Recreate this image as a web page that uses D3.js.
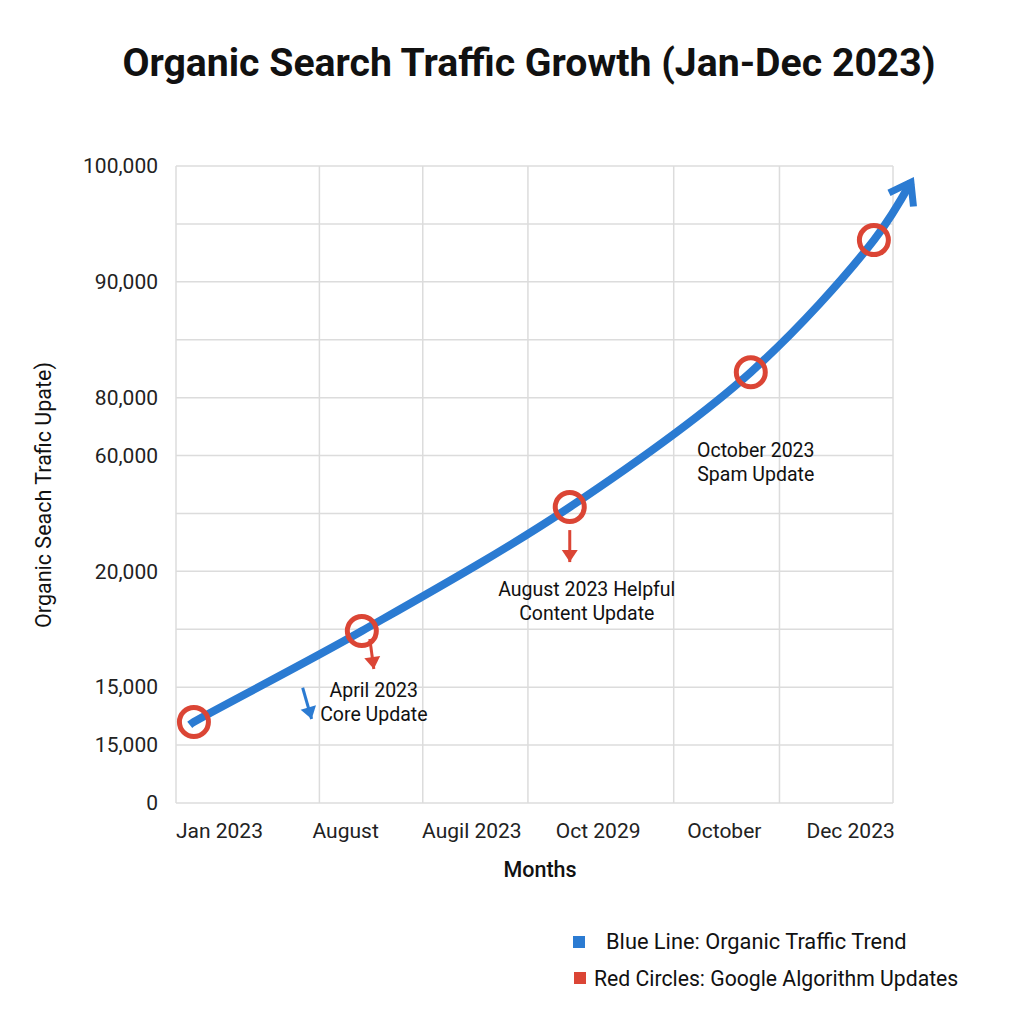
<!DOCTYPE html>
<html>
<head>
<meta charset="utf-8">
<script src="https://cdn.jsdelivr.net/npm/d3@7"></script>
<style>
  body { margin: 0; background: #fff; }
  svg { font-family: Roboto, "Noto Sans", sans-serif; }
</style>
</head>
<body>
<svg id="chart" width="1024" height="1024"></svg>
<script>
// y axis is drawn on evenly spaced gridlines (0 = bottom); labels as they appear
const yTickLabels = ["0", "15,000", "15,000", "", "20,000", "", "60,000", "80,000", "", "90,000", "", "100,000"];
const monthLabels = ["Jan 2023", "August", "Augil 2023", "Oct 2029", "October", "Dec 2023"];
// vertical gridlines, in month units
const xGrid = [0, 2.4, 4.13, 5.89, 8.33, 10.1, 12];

// traffic trend (month, level on gridline scale)
const trendMonth = [0.23, 0.3, 3.11, 6.59, 9.62, 11.68, 12.3];
const trendLevel = [1.35, 1.4, 2.97, 5.11, 7.44, 9.72, 10.72];

// algorithm updates (red circles)
const updateMonth = [0.3, 3.11, 6.59, 9.62, 11.68];
const updateLevel = [1.4, 2.97, 5.11, 7.44, 9.72];
const updateText = [
  null,
  ["April 2023", "Core Update"],
  ["August 2023 Helpful", "Content Update"],
  ["October 2023", "Spam Update"],
  null
];

const svg = d3.select("#chart");
const margin = { left: 176, right: 131, top: 166, bottom: 221 };
const width = 1024 - margin.left - margin.right;
const height = 1024 - margin.top - margin.bottom;

const x = d3.scaleLinear().domain([0, 12]).range([0, width]);
const y = d3.scaleLinear().domain([0, 11]).range([height, 0]);
const xLab = d3.scalePoint().domain(monthLabels).range([0, width]).padding(0.34);

const blue = "#2b7bd2";
const red = "#db4535";

svg.append("text")
  .attr("x", 529).attr("y", 76)
  .attr("text-anchor", "middle")
  .attr("font-size", 39.2).attr("font-weight", 700).attr("fill", "#111")
  .text("Organic Search Traffic Growth (Jan-Dec 2023)");

const g = svg.append("g").attr("transform", `translate(${margin.left},${margin.top})`);

// grid
g.append("g").selectAll("line").data(d3.range(12)).join("line")
  .attr("x1", 0).attr("x2", width)
  .attr("y1", d => y(d)).attr("y2", d => y(d))
  .attr("stroke", "#dcdcdc").attr("stroke-width", 1.5);
g.append("g").selectAll("line").data(xGrid).join("line")
  .attr("x1", d => x(d)).attr("x2", d => x(d))
  .attr("y1", 0).attr("y2", height)
  .attr("stroke", "#dcdcdc").attr("stroke-width", 1.5);

// y axis labels
const yAxis = g.append("g")
  .call(d3.axisLeft(y).tickValues(d3.range(12)).tickFormat(i => yTickLabels[i]).tickSize(0).tickPadding(18));
yAxis.select(".domain").remove();
yAxis.selectAll("text").attr("font-size", 21).attr("fill", "#222").attr("font-family", "Roboto, sans-serif");

// x axis labels
const xAxis = g.append("g").attr("transform", `translate(0,${height})`)
  .call(d3.axisBottom(xLab).tickSize(0).tickPadding(20));
xAxis.select(".domain").remove();
xAxis.selectAll("text").attr("font-size", 21).attr("fill", "#222").attr("font-family", "Roboto, sans-serif");

svg.append("text")
  .attr("x", 540).attr("y", 877)
  .attr("text-anchor", "middle")
  .attr("font-size", 21.5).attr("font-weight", 500).attr("fill", "#111")
  .text("Months");

svg.append("text")
  .attr("transform", "translate(51,495) rotate(-90)")
  .attr("text-anchor", "middle")
  .attr("font-size", 21.5).attr("fill", "#111")
  .text("Organic Seach Trafic Upate)");

// markers
const defs = svg.append("defs");
defs.append("marker")
  .attr("id", "chev").attr("markerUnits", "userSpaceOnUse")
  .attr("viewBox", "-30 -20 40 40").attr("markerWidth", 40).attr("markerHeight", 40)
  .attr("refX", 0).attr("refY", 0).attr("orient", "auto")
  .append("path").attr("d", "M-20,-14 L0,0 L-20,14")
  .attr("fill", "none").attr("stroke", blue).attr("stroke-width", 7)
  .attr("stroke-linecap", "butt").attr("stroke-linejoin", "miter");
[["redHead", red], ["blueHead", blue]].forEach(([id, c]) => {
  defs.append("marker")
    .attr("id", id).attr("markerUnits", "userSpaceOnUse")
    .attr("viewBox", "-14 -10 16 20").attr("markerWidth", 16).attr("markerHeight", 20)
    .attr("refX", 0).attr("refY", 0).attr("orient", "auto")
    .append("path").attr("d", "M-12,-8 L0,0 L-12,8 Z").attr("fill", c);
});

// trend line
const trend = trendMonth.map((m, i) => [m, trendLevel[i]]);
g.append("path")
  .datum(trend)
  .attr("d", d3.line().x(d => x(d[0])).y(d => y(d[1])).curve(d3.curveCatmullRom.alpha(0.5)))
  .attr("fill", "none").attr("stroke", blue).attr("stroke-width", 8)
  .attr("marker-end", "url(#chev)");

// red circles
g.selectAll(".update").data(updateMonth).join("circle")
  .attr("class", "update")
  .attr("cx", d => x(d)).attr("cy", (d, i) => y(updateLevel[i]))
  .attr("r", 14.5)
  .attr("fill", "none").attr("stroke", red).attr("stroke-width", 5);

// small arrows below circles 2 and 3
const arrow = (x1, y1, x2, y2, c, id) => g.append("line")
  .attr("x1", x1).attr("y1", y1).attr("x2", x2).attr("y2", y2)
  .attr("stroke", c).attr("stroke-width", 3).attr("marker-end", `url(#${id})`);
arrow(x(updateMonth[1]) + 8, y(updateLevel[1]) + 8, x(updateMonth[1]) + 12, y(updateLevel[1]) + 38, red, "redHead");
arrow(x(updateMonth[2]), y(updateLevel[2]) + 23, x(updateMonth[2]), y(updateLevel[2]) + 55, red, "redHead");
arrow(x(2.12), y(1.99), x(2.27), y(1.45), blue, "blueHead");

// update labels
const textPos = [null, [x(updateMonth[1]) + 12, y(updateLevel[1]) + 66], [x(updateMonth[2]) + 17, y(updateLevel[2]) + 89], [x(updateMonth[3]) + 5, y(updateLevel[3]) + 85]];
updateText.forEach((lines, i) => {
  if (!lines) return;
  const t = g.append("text")
    .attr("text-anchor", "middle")
    .attr("font-size", 19.5).attr("fill", "#111");
  lines.forEach((s, k) => t.append("tspan")
    .attr("x", textPos[i][0]).attr("y", textPos[i][1] + k * 24).text(s));
});

// legend
const legend = svg.append("g");
legend.append("rect").attr("x", 573).attr("y", 936).attr("width", 12).attr("height", 12).attr("fill", blue);
legend.append("text").attr("x", 606).attr("y", 949).attr("font-size", 21.8).attr("fill", "#111")
  .text("Blue Line: Organic Traffic Trend");
legend.append("rect").attr("x", 574).attr("y", 972).attr("width", 12).attr("height", 12).attr("fill", red);
legend.append("text").attr("x", 594).attr("y", 986).attr("font-size", 21.2).attr("fill", "#111")
  .text("Red Circles: Google Algorithm Updates");
</script>
</body>
</html>
